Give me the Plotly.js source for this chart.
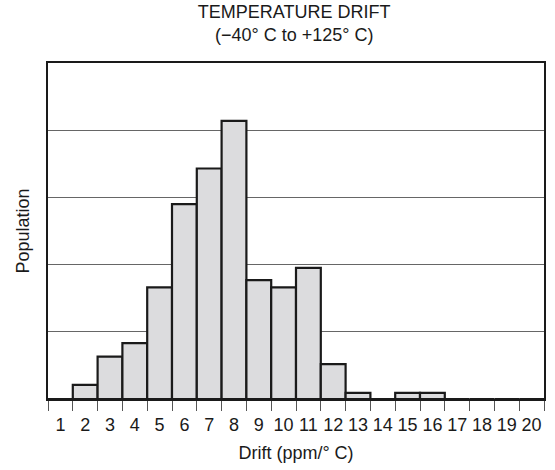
<!DOCTYPE html>
<html>
<head>
<meta charset="utf-8">
<script src="https://cdn.plot.ly/plotly-3.0.1.min.js"></script>
<style>html,body{margin:0;padding:0;background:#fff;}#chart{width:555px;height:470px;}</style>
</head>
<body>
<div id="chart"></div>
<script>
// Drift bins (ppm/°C) and population per bin (gridline = 10 units)
const driftBins = [1,2,3,4,5,6,7,8,9,10,11,12,13,14,15,16,17,18,19,20];
const population = [0,2.1,6.3,8.3,16.6,29.0,34.3,41.4,17.7,16.6,19.5,5.2,0.9,0,0.9,0.9,0,0,0,0];
const tickLabels = driftBins.map(String);
const binEdges = [0.5,1.5,2.5,3.5,4.5,5.5,6.5,7.5,8.5,9.5,10.5,11.5,12.5,13.5,14.5,15.5,16.5,17.5,18.5,19.5,20.5];
const gridVals = [10,20,30,40];

const font = 'Liberation Sans, Arial, Helvetica, sans-serif';

const trace = {
  type: 'bar',
  x: driftBins,
  y: population,
  width: 1,
  marker: {color: '#dcdcde', line: {color: '#1a1a1a', width: 2.2}},
  hoverinfo: 'x+y'
};

const layout = {
  width: 555, height: 470,
  margin: {l: 48, r: 11, t: 63, b: 71},
  paper_bgcolor: '#fff', plot_bgcolor: '#fff',
  font: {family: font, size: 18, color: '#1a1a1a'},
  showlegend: false,
  bargap: 0,
  title: {
    text: 'TEMPERATURE DRIFT<br>(−40° C to +125° C)',
    font: {family: font, size: 18, color: '#1a1a1a'},
    xref: 'container', x: 0.53, xanchor: 'center',
    yref: 'container', y: 0.962, yanchor: 'top'
  },
  xaxis: {
    range: [0.5, 20.5],
    tickmode: 'array', tickvals: driftBins, ticktext: tickLabels,
    ticks: 'outside', ticklen: 8, tickcolor: 'rgba(0,0,0,0)',
    tickfont: {family: font, size: 18, color: '#1a1a1a'},
    showgrid: false, zeroline: false,
    showline: true, linecolor: '#1a1a1a', linewidth: 2.2, mirror: true,
    minor: {tickmode: 'array', tickvals: binEdges, ticks: 'outside', ticklen: 10, tickwidth: 1, tickcolor: '#555', showgrid: false},
    title: {text: 'Drift (ppm/° C)', font: {family: font, size: 18, color: '#1a1a1a'}, standoff: 13},
    automargin: false, fixedrange: true
  },
  yaxis: {
    range: [0, 50],
    tickmode: 'array', tickvals: gridVals, showticklabels: false, ticks: '',
    showgrid: true, gridcolor: '#666', gridwidth: 1,
    zeroline: false,
    showline: true, linecolor: '#1a1a1a', linewidth: 2.2, mirror: true,
    title: {text: 'Population', font: {family: font, size: 18, color: '#1a1a1a'}, standoff: 12},
    automargin: false, fixedrange: true
  }
};

Plotly.newPlot('chart', [trace], layout, {displayModeBar: false, staticPlot: true});
</script>
</body>
</html>
